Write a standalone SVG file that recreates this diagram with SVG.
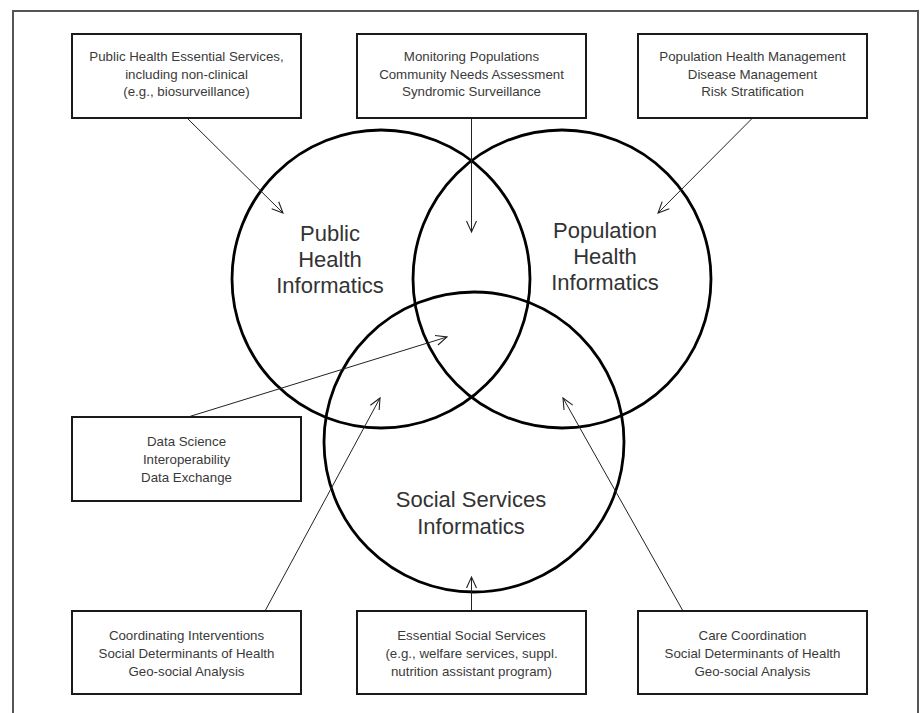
<svg xmlns="http://www.w3.org/2000/svg" width="922" height="713" viewBox="0 0 922 713">
<defs>
<marker id="ah" markerWidth="14" markerHeight="12" refX="12" refY="6" orient="auto" markerUnits="userSpaceOnUse">
<path d="M1,1 L12,6 L1,11" fill="none" stroke="#222" stroke-width="1.1"/>
</marker>
<style>
.frame{fill:none;stroke:#555;stroke-width:2}
.box{fill:#fff;stroke:#1a1a1a;stroke-width:2}
.circ{fill:none;stroke:#000;stroke-width:2.8}
.t{font-family:"Liberation Sans",Arial,sans-serif;font-size:13.3px;fill:#3a3a3a;text-anchor:middle}
.big{font-family:"Liberation Sans",Arial,sans-serif;font-size:22px;fill:#333;text-anchor:middle}
.con{fill:none;stroke:#222;stroke-width:1;marker-end:url(#ah)}
</style>
</defs>
<rect width="922" height="713" fill="#fff"/>
<path class="frame" d="M13,720 L13,11 L918,11 L918,720"/>
<g id="circles">
<g id="c-public"><circle class="circ" cx="381" cy="279" r="149"/>
<text class="big" x="330" y="241">Public</text><text class="big" x="330" y="267">Health</text><text class="big" x="330" y="293">Informatics</text></g>
<g id="c-population"><circle class="circ" cx="562" cy="279" r="149"/>
<text class="big" x="605" y="238">Population</text><text class="big" x="605" y="264">Health</text><text class="big" x="605" y="290">Informatics</text></g>
<g id="c-social"><circle class="circ" cx="474" cy="442" r="150"/>
<text class="big" x="471" y="507">Social Services</text><text class="big" x="471" y="534">Informatics</text></g>
</g>
<g id="connectors">
<line class="con" x1="187" y1="118" x2="283" y2="213"/>
<line class="con" x1="471.5" y1="118" x2="471.5" y2="232"/>
<line class="con" x1="752.5" y1="118" x2="658" y2="213"/>
<line class="con" x1="188" y1="417" x2="447" y2="337"/>
<line class="con" x1="265" y1="611" x2="380" y2="398"/>
<line class="con" x1="471.5" y1="611" x2="471.5" y2="577"/>
<line class="con" x1="683" y1="611" x2="563" y2="398"/>
</g>
<g id="box1"><rect class="box" x="72" y="34" width="229" height="84"/>
<text class="t" x="186.5" y="61">Public Health Essential Services,</text><text class="t" x="186.5" y="78.5">including non-clinical</text><text class="t" x="186.5" y="96">(e.g., biosurveillance)</text></g>
<g id="box2"><rect class="box" x="357" y="34" width="229" height="84"/>
<text class="t" x="471.5" y="61">Monitoring Populations</text><text class="t" x="471.5" y="78.5">Community Needs Assessment</text><text class="t" x="471.5" y="96">Syndromic Surveillance</text></g>
<g id="box3"><rect class="box" x="638" y="34" width="229" height="84"/>
<text class="t" x="752.5" y="61">Population Health Management</text><text class="t" x="752.5" y="78.5">Disease Management</text><text class="t" x="752.5" y="96">Risk Stratification</text></g>
<g id="box4"><rect class="box" x="72" y="417" width="229" height="84"/>
<text class="t" x="186.5" y="446">Data Science</text><text class="t" x="186.5" y="464">Interoperability</text><text class="t" x="186.5" y="482">Data Exchange</text></g>
<g id="box5"><rect class="box" x="72" y="611" width="229" height="83"/>
<text class="t" x="186.5" y="640">Coordinating Interventions</text><text class="t" x="186.5" y="658">Social Determinants of Health</text><text class="t" x="186.5" y="676">Geo-social Analysis</text></g>
<g id="box6"><rect class="box" x="357" y="611" width="229" height="83"/>
<text class="t" x="471.5" y="640">Essential Social Services</text><text class="t" x="471.5" y="658">(e.g., welfare services, suppl.</text><text class="t" x="471.5" y="676">nutrition assistant program)</text></g>
<g id="box7"><rect class="box" x="638" y="611" width="229" height="83"/>
<text class="t" x="752.5" y="640">Care Coordination</text><text class="t" x="752.5" y="658">Social Determinants of Health</text><text class="t" x="752.5" y="676">Geo-social Analysis</text></g>
</svg>
